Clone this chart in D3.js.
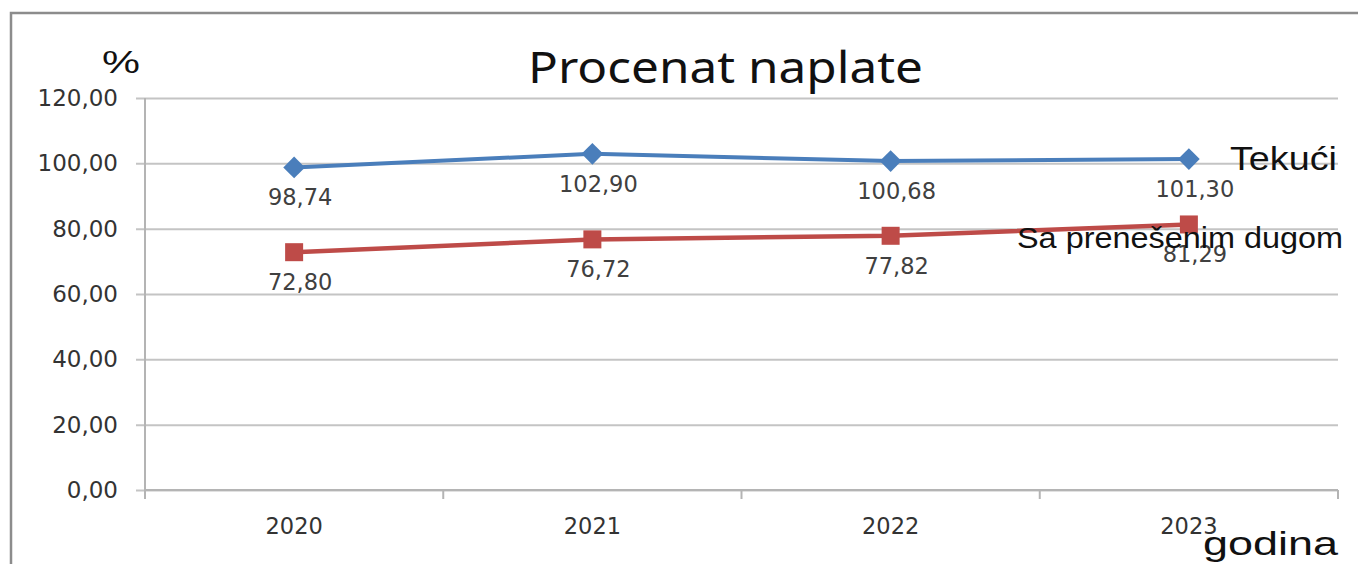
<!DOCTYPE html>
<html>
<head>
<meta charset="utf-8">
<script src="https://cdn.jsdelivr.net/npm/d3@7"></script>
<style>
  body { margin: 0; background: #fff; }
  svg { display: block; }
</style>
</head>
<body>
<div id="chart-area"></div>
<script>
const W = 1358, H = 564
const PLOT = { LEFT: 145, RIGHT: 1338, TOP: 98, BOTTOM: 490 }

// data
const years = ["2020", "2021", "2022", "2023"]
const tekuci = [98.74, 102.90, 100.68, 101.30]
const saDugom = [72.80, 76.72, 77.82, 81.29]
const yTicks = [0, 20, 40, 60, 80, 100, 120]

const fmt = v => d3.format(".2f")(v).replace(".", ",")

const svg = d3.select("#chart-area").append("svg")
  .attr("width", W)
  .attr("height", H)

// outer frame (only left and top edges are visible)
svg.append("rect")
  .attr("x", 11).attr("y", 13)
  .attr("width", W + 20).attr("height", H)
  .attr("fill", "none")
  .attr("stroke", "#8c8c8c")
  .attr("stroke-width", 2.5)

const x = d3.scaleBand()
  .domain(years)
  .range([PLOT.LEFT, PLOT.RIGHT])

const y = d3.scaleLinear()
  .domain([0, 120])
  .range([PLOT.BOTTOM, PLOT.TOP])

// gridlines (including the small outside tick on the left)
const grid = svg.append("g")
  .attr("transform", `translate(${PLOT.LEFT - 9}, 0)`)
  .call(d3.axisRight(y).tickValues(yTicks).tickSize(PLOT.RIGHT - PLOT.LEFT + 9).tickFormat(""))
grid.select(".domain").remove()
grid.selectAll("line").attr("stroke", "#c4c4c4").attr("stroke-width", 2)

// y labels
const yAx = svg.append("g")
  .attr("transform", `translate(${PLOT.LEFT}, 0)`)
  .call(d3.axisLeft(y).tickValues(yTicks).tickSize(0).tickPadding(27).tickFormat(fmt))
yAx.select(".domain").remove()
yAx.selectAll("text")
  .attr("font-family", "DejaVu Sans")
  .attr("font-size", "23px")
  .attr("fill", "#333")

// y axis line
svg.append("line")
  .attr("x1", PLOT.LEFT).attr("x2", PLOT.LEFT)
  .attr("y1", y(120)).attr("y2", y(0) + 9)
  .attr("stroke", "#b4b4b4").attr("stroke-width", 2)

// x axis
svg.append("line")
  .attr("x1", PLOT.LEFT).attr("x2", PLOT.RIGHT)
  .attr("y1", y(0)).attr("y2", y(0))
  .attr("stroke", "#b4b4b4").attr("stroke-width", 2)

svg.selectAll(".xtick")
  .data(years)
  .enter().append("line")
  .attr("class", "xtick")
  .attr("x1", d => x(d) + x.bandwidth())
  .attr("x2", d => x(d) + x.bandwidth())
  .attr("y1", y(0)).attr("y2", y(0) + 9)
  .attr("stroke", "#b4b4b4").attr("stroke-width", 2)

const xAx = svg.append("g")
  .attr("transform", `translate(0, ${PLOT.BOTTOM})`)
  .call(d3.axisBottom(x).tickSize(0).tickPadding(28))
xAx.select(".domain").remove()
xAx.selectAll("text")
  .attr("font-family", "DejaVu Sans")
  .attr("font-size", "22.5px")
  .attr("fill", "#333")

const cx = d => x(d) + x.bandwidth() / 2
const line = d3.line()
  .x((d, i) => cx(years[i]))
  .y(d => y(d))

// series: Tekući
svg.append("path")
  .datum(tekuci)
  .attr("d", line)
  .attr("fill", "none")
  .attr("stroke", "#4a7ebb")
  .attr("stroke-width", 4)

svg.selectAll(".diamond")
  .data(tekuci)
  .enter().append("path")
  .attr("class", "diamond")
  .attr("d", d3.symbol(d3.symbolDiamond2, 300))
  .attr("transform", (d, i) => `translate(${cx(years[i])}, ${y(d)})`)
  .attr("fill", "#4a7ebb")

// series: Sa prenešenim dugom
svg.append("path")
  .datum(saDugom)
  .attr("d", line)
  .attr("fill", "none")
  .attr("stroke", "#be4b48")
  .attr("stroke-width", 4.5)

svg.selectAll(".square")
  .data(saDugom)
  .enter().append("rect")
  .attr("class", "square")
  .attr("x", (d, i) => cx(years[i]) - 9)
  .attr("y", d => y(d) - 9)
  .attr("width", 18).attr("height", 18)
  .attr("fill", "#be4b48")

// data labels
const labels = tekuci.concat(saDugom)
svg.selectAll(".dlabel")
  .data(labels)
  .enter().append("text")
  .attr("class", "dlabel")
  .attr("x", (d, i) => cx(years[i % 4]) + 6)
  .attr("y", d => y(d) + 38)
  .attr("text-anchor", "middle")
  .attr("font-family", "DejaVu Sans")
  .attr("font-size", "22.5px")
  .attr("fill", "#404040")
  .text(fmt)

// title and axis titles
svg.append("text")
  .attr("x", 528).attr("y", 83)
  .attr("font-family", "Noto Sans")
  .attr("font-size", "44px")
  .attr("textLength", 395)
  .attr("lengthAdjust", "spacingAndGlyphs")
  .attr("fill", "#111")
  .text("Procenat naplate")

svg.append("text")
  .attr("x", 102).attr("y", 73)
  .attr("font-family", "Liberation Sans")
  .attr("font-size", "31px")
  .attr("textLength", 38)
  .attr("lengthAdjust", "spacingAndGlyphs")
  .attr("fill", "#111")
  .text("%")

svg.append("text")
  .attr("x", 1230).attr("y", 170)
  .attr("font-family", "Liberation Sans")
  .attr("font-size", "33px")
  .attr("textLength", 107)
  .attr("lengthAdjust", "spacingAndGlyphs")
  .attr("fill", "#111")
  .text("Tekući")

svg.append("text")
  .attr("x", 1017).attr("y", 248)
  .attr("font-family", "Liberation Sans")
  .attr("font-size", "29px")
  .attr("textLength", 326)
  .attr("lengthAdjust", "spacingAndGlyphs")
  .attr("fill", "#111")
  .text("Sa prenešenim dugom")

svg.append("text")
  .attr("x", 1203).attr("y", 555)
  .attr("font-family", "Liberation Sans")
  .attr("font-size", "33px")
  .attr("textLength", 135)
  .attr("lengthAdjust", "spacingAndGlyphs")
  .attr("fill", "#111")
  .text("godina")
</script>
</body>
</html>
